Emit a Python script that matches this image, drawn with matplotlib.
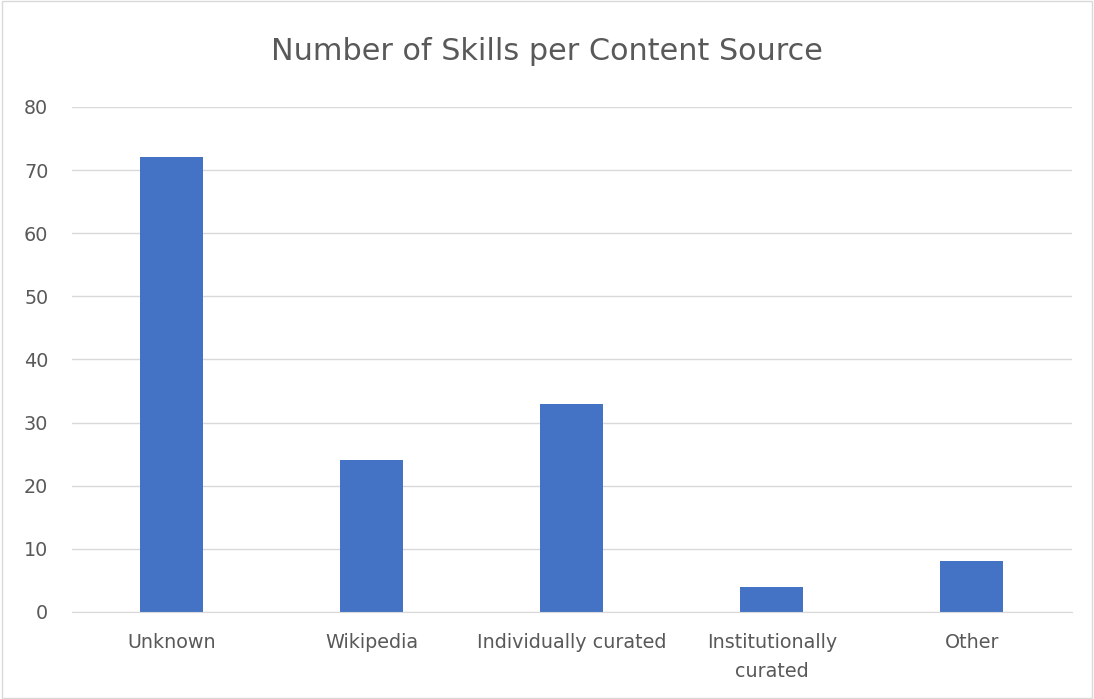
import matplotlib.pyplot as plt
from matplotlib.patches import Rectangle

# Data
categories = ["Unknown", "Wikipedia", "Individually curated", "Institutionally\ncurated", "Other"]
skills = [72, 24, 33, 4, 8]
y_ticks = [0, 10, 20, 30, 40, 50, 60, 70, 80]

text_color = "#595959"
grid_color = "#d9d9d9"

fig = plt.figure(figsize=(10.94, 6.99), dpi=100)
ax = fig.add_axes([0.0658, 0.1245, 0.914, 0.7225])

x = list(range(len(categories)))
ax.bar(x, skills, width=0.315, color="#4472c4", zorder=3)

ax.set_xlim(-0.5, len(categories) - 0.5)
ax.set_ylim(0, 80)
ax.set_yticks(y_ticks)
ax.set_xticks(x)
ax.set_xticklabels(categories, fontsize=13.8, color=text_color, linespacing=1.65)
ax.tick_params(axis="y", labelsize=13.8, labelcolor=text_color, length=0, pad=17)
ax.tick_params(axis="x", length=0, pad=15)
ax.grid(axis="y", color=grid_color, linewidth=1, zorder=0)

for side in ["top", "right", "left"]:
    ax.spines[side].set_visible(False)
ax.spines["bottom"].set_color(grid_color)
ax.spines["bottom"].set_zorder(4)

fig.text(0.5, 0.926, "Number of Skills per Content Source", ha="center", va="center",
         fontsize=21.8, color=text_color)

# light frame around the chart
fig.patches.append(Rectangle((0.002, 0.002), 0.996, 0.996, transform=fig.transFigure,
                             fill=False, edgecolor=grid_color, linewidth=1))

plt.savefig("out.png", dpi=100)
